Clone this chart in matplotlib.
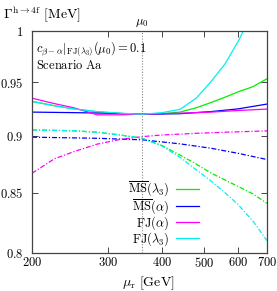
import matplotlib
matplotlib.use("Agg")
import matplotlib.pyplot as plt
from matplotlib.ticker import FixedLocator, NullLocator, FixedFormatter

plt.rcParams['mathtext.fontset'] = 'cm'
plt.rcParams['font.family'] = ['DejaVu Serif']

mu0 = 360

# solid curves
mu_cyan = [200, 225, 250, 283, 320, 360, 400, 440, 480, 520, 560, 600, 650, 700]
fj_l3 = [0.932, 0.928, 0.925, 0.9225, 0.921, 0.920, 0.9215, 0.9245, 0.935, 0.951, 0.968, 0.99, 1.02, 1.06]

mu_green = [200, 225, 250, 283, 320, 360, 400, 440, 480, 520, 560, 600, 650, 700]
ms_l3 = [0.932, 0.928, 0.925, 0.9222, 0.9208, 0.920, 0.9205, 0.922, 0.926, 0.931, 0.936, 0.941, 0.946, 0.9535]

mu_blue = [200, 250, 300, 360, 440, 520, 600, 700]
ms_a = [0.922, 0.9215, 0.921, 0.920, 0.9205, 0.9225, 0.925, 0.9295]

mu_mag = [200, 225, 250, 283, 320, 360, 440, 520, 600, 700]
fj_a = [0.935, 0.930, 0.926, 0.9195, 0.9195, 0.9201, 0.921, 0.922, 0.9235, 0.9248]

# dash-dot curves
mu_dd = [200, 250, 283, 320, 360, 400, 440, 480, 520, 560, 600, 650, 700]
ms_l3_dd = [0.9056, 0.9048, 0.9035, 0.901, 0.898, 0.8915, 0.883, 0.875, 0.867, 0.861, 0.8555, 0.849, 0.841]
fj_l3_dd = [0.9056, 0.9048, 0.9035, 0.901, 0.898, 0.891, 0.881, 0.870, 0.860, 0.850, 0.840, 0.826, 0.810]

mu_blue_dd = [200, 283, 360, 440, 520, 600, 700]
ms_a_dd = [0.899, 0.898, 0.8966, 0.893, 0.889, 0.8845, 0.879]

mu_mag_dd = [200, 225, 250, 283, 320, 360, 400, 480, 560, 700]
fj_a_dd = [0.8669, 0.8795, 0.886, 0.8927, 0.897, 0.8995, 0.901, 0.9025, 0.9035, 0.9047]

xticks = [200, 300, 400, 500, 600, 700]
yticks = [0.8, 0.85, 0.9, 0.95, 1.0]
ytick_labels = ['0.8', '0.85', '0.9', '0.95', '1']

c_green = '#00ee00'
c_blue = '#0000ff'
c_mag = '#ff00ff'
c_cyan = '#00f0f0'

fig = plt.figure(figsize=(2.77, 2.91), dpi=100)
ax = fig.add_axes([0.1155, 0.1306, 0.8484, 0.7612])
ax.set_xscale('log')
ax.set_yscale('log')
ax.set_xlim(200, 700)
ax.set_ylim(0.8, 1.0)

lw = 0.9
dd = (0, (4, 1.5, 1, 1.5))
ax.plot(mu_green, ms_l3, color=c_green, lw=lw, label=r'$\overline{\rm MS}(\lambda_3)$')
ax.plot(mu_blue, ms_a, color=c_blue, lw=lw, label=r'$\overline{\rm MS}(\alpha)$')
ax.plot(mu_mag, fj_a, color=c_mag, lw=lw, label=r'${\rm FJ}(\alpha)$')
ax.plot(mu_cyan, fj_l3, color=c_cyan, lw=lw, label=r'${\rm FJ}(\lambda_3)$')

ax.plot(mu_dd, ms_l3_dd, color=c_green, lw=lw, ls=dd)
ax.plot(mu_blue_dd, ms_a_dd, color=c_blue, lw=lw, ls=dd)
ax.plot(mu_mag_dd, fj_a_dd, color=c_mag, lw=lw, ls=dd)
ax.plot(mu_dd, fj_l3_dd, color=c_cyan, lw=lw, ls=dd)

ax.axvline(mu0, color='#888888', lw=0.8, ls=(0, (1, 1.5)))

ax.xaxis.set_major_locator(FixedLocator(xticks))
ax.xaxis.set_minor_locator(NullLocator())
ax.yaxis.set_major_locator(FixedLocator(yticks))
ax.yaxis.set_minor_locator(NullLocator())
ax.xaxis.set_major_formatter(FixedFormatter([r'$%d$' % t for t in xticks]))
ax.yaxis.set_major_formatter(FixedFormatter([r'$%s$' % t for t in ytick_labels]))

ax.tick_params(direction='in', length=4, width=0.7, top=True, right=True,
               labelsize=9, color='#444444')
ax.tick_params(axis='x', pad=2)
ax.tick_params(axis='y', pad=6)
for s in ax.spines.values():
    s.set_color('#444444')
    s.set_linewidth(0.9)

fig.text(0.012, 0.985, r'$\Gamma^{\rm h\to 4f}\ [{\rm MeV}]$', fontsize=10, va='top', ha='left')
fig.text(0.535, 0.027, r'$\mu_{\rm r}\ [{\rm GeV}]$', fontsize=10, va='center', ha='center')
ax.text(0.015, 0.965, r'$c_{\beta-\alpha}|_{\rm FJ(\lambda_3)}(\mu_0) = 0.1$', transform=ax.transAxes,
        fontsize=9, va='top', ha='left')
ax.text(0.015, 0.875, r'${\rm Scenario\ Aa}$', transform=ax.transAxes,
        fontsize=9, va='top', ha='left')
ax.text(mu0, 1.003, r'$\mu_0$', fontsize=9, ha='center', va='bottom')

leg = ax.legend(loc='lower right', bbox_to_anchor=(0.712, 0.022), frameon=False, fontsize=9,
                markerfirst=False, handlelength=1.85, handletextpad=0.55,
                labelspacing=-0.12, borderaxespad=0.0, borderpad=0.0)

fig.savefig('out.png', dpi=100)
